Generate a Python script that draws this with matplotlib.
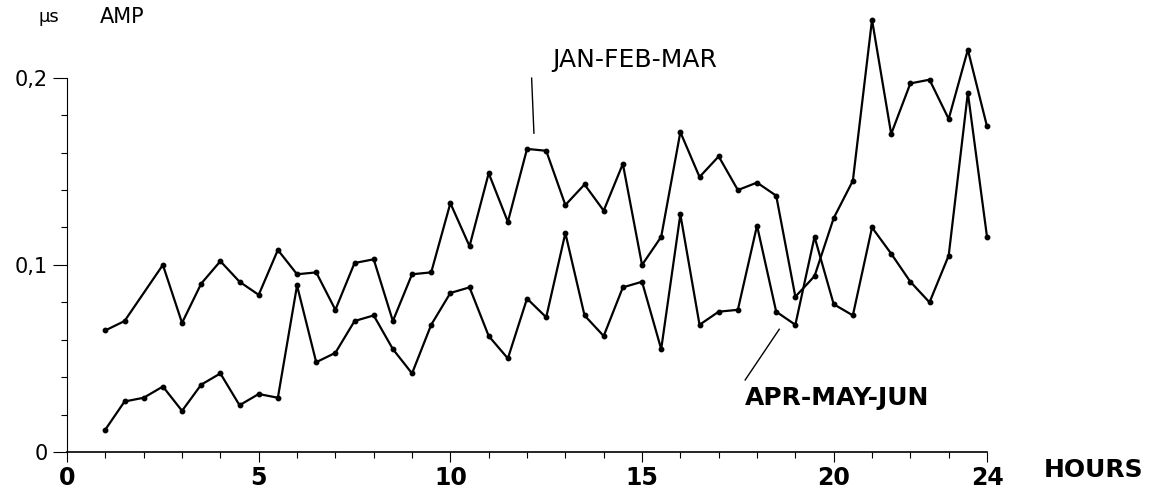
import numpy as np
import matplotlib
matplotlib.use("Agg")
import matplotlib.pyplot as plt
from matplotlib.ticker import MultipleLocator, FixedLocator

# JAN-FEB-MAR series (no dot at 2 h in the original)
jfm_hours = [1, 1.5, 2.5, 3, 3.5, 4, 4.5, 5, 5.5, 6, 6.5, 7, 7.5, 8, 8.5, 9,
             9.5, 10, 10.5, 11, 11.5, 12, 12.5, 13, 13.5, 14, 14.5, 15, 15.5,
             16, 16.5, 17, 17.5, 18, 18.5, 19, 19.5, 20, 20.5, 21, 21.5, 22,
             22.5, 23, 23.5, 24]
jfm_amp = [0.065, 0.070, 0.100, 0.069, 0.090, 0.102, 0.091, 0.084, 0.108,
           0.095, 0.096, 0.076, 0.101, 0.103, 0.070, 0.095, 0.096, 0.133,
           0.110, 0.149, 0.123, 0.162, 0.161, 0.132, 0.143, 0.129, 0.154,
           0.100, 0.115, 0.171, 0.147, 0.158, 0.140, 0.144, 0.137, 0.083,
           0.094, 0.125, 0.145, 0.231, 0.170, 0.197, 0.199, 0.178, 0.215,
           0.174]

# APR-MAY-JUN series
amj_hours = [1, 1.5, 2, 2.5, 3, 3.5, 4, 4.5, 5, 5.5, 6, 6.5, 7, 7.5, 8, 8.5,
             9, 9.5, 10, 10.5, 11, 11.5, 12, 12.5, 13, 13.5, 14, 14.5, 15,
             15.5, 16, 16.5, 17, 17.5, 18, 18.5, 19, 19.5, 20, 20.5, 21, 21.5,
             22, 22.5, 23, 23.5, 24]
amj_amp = [0.012, 0.027, 0.029, 0.035, 0.022, 0.036, 0.042, 0.025, 0.031,
           0.029, 0.089, 0.048, 0.053, 0.070, 0.073, 0.055, 0.042, 0.068,
           0.085, 0.088, 0.062, 0.050, 0.082, 0.072, 0.117, 0.073, 0.062,
           0.088, 0.091, 0.055, 0.127, 0.068, 0.075, 0.076, 0.121, 0.075,
           0.068, 0.115, 0.079, 0.073, 0.120, 0.106, 0.091, 0.080, 0.105,
           0.192, 0.115]

x_major = [0, 5, 10, 15, 20, 24]
y_major = [0, 0.1, 0.2]
y_minor = [0.02, 0.04, 0.06, 0.08, 0.12, 0.14, 0.16, 0.18]
y_labels = ["0", "0,1", "0,2"]


def make_plot():
    fig = plt.figure(figsize=(11.66, 4.94), dpi=100)
    ax = fig.add_axes([0.0575, 0.085, 0.789, 0.909])

    line_style = dict(color="black", lw=1.6, marker="o", ms=3.2, clip_on=False)
    ax.plot(jfm_hours, jfm_amp, **line_style)
    ax.plot(amj_hours, amj_amp, **line_style)

    ax.set_xlim(0, 24)
    ax.set_ylim(0, 0.24)

    for side in ["top", "right"]:
        ax.spines[side].set_visible(False)
    ax.spines["left"].set_bounds(0, 0.2)
    ax.spines["bottom"].set_bounds(0, 24)
    ax.spines["left"].set_linewidth(0.8)
    ax.spines["bottom"].set_linewidth(1.2)

    ax.xaxis.set_major_locator(FixedLocator(x_major))
    ax.xaxis.set_minor_locator(MultipleLocator(1))
    ax.set_xticklabels([str(v) for v in x_major], fontsize=17, fontweight="bold")
    ax.yaxis.set_major_locator(FixedLocator(y_major))
    ax.yaxis.set_minor_locator(FixedLocator(y_minor))
    ax.set_yticklabels(y_labels, fontsize=15)

    ax.tick_params(axis="x", which="major", length=7, width=0.8, pad=3)
    ax.tick_params(axis="x", which="minor", length=4, width=0.8)
    ax.tick_params(axis="y", which="major", length=10, width=0.8, pad=4)
    ax.tick_params(axis="y", which="minor", length=4, width=0.8)

    # series labels with leader lines
    ax.text(14.8, 0.2095, "JAN-FEB-MAR", fontsize=18, ha="center", va="center")
    ax.plot([12.12, 12.18], [0.1998, 0.1704], color="black", lw=1.0)
    ax.text(20.1, 0.029, "APR-MAY-JUN", fontsize=18, fontweight="bold",
            ha="center", va="center")
    ax.plot([17.69, 18.58], [0.0385, 0.0656], color="black", lw=1.0)

    ax.text(26.77, -0.0095, "HOURS", fontsize=18, fontweight="bold",
            ha="center", va="center", clip_on=False)
    fig.text(38 / 1166, 1 - 17 / 494, "µs", fontsize=13, ha="left", va="center")
    fig.text(100 / 1166, 1 - 17 / 494, "AMP", fontsize=15, ha="left", va="center")

    fig.savefig("out.png", dpi=100)


def main():
    make_plot()


if __name__ == "__main__":
    main()
